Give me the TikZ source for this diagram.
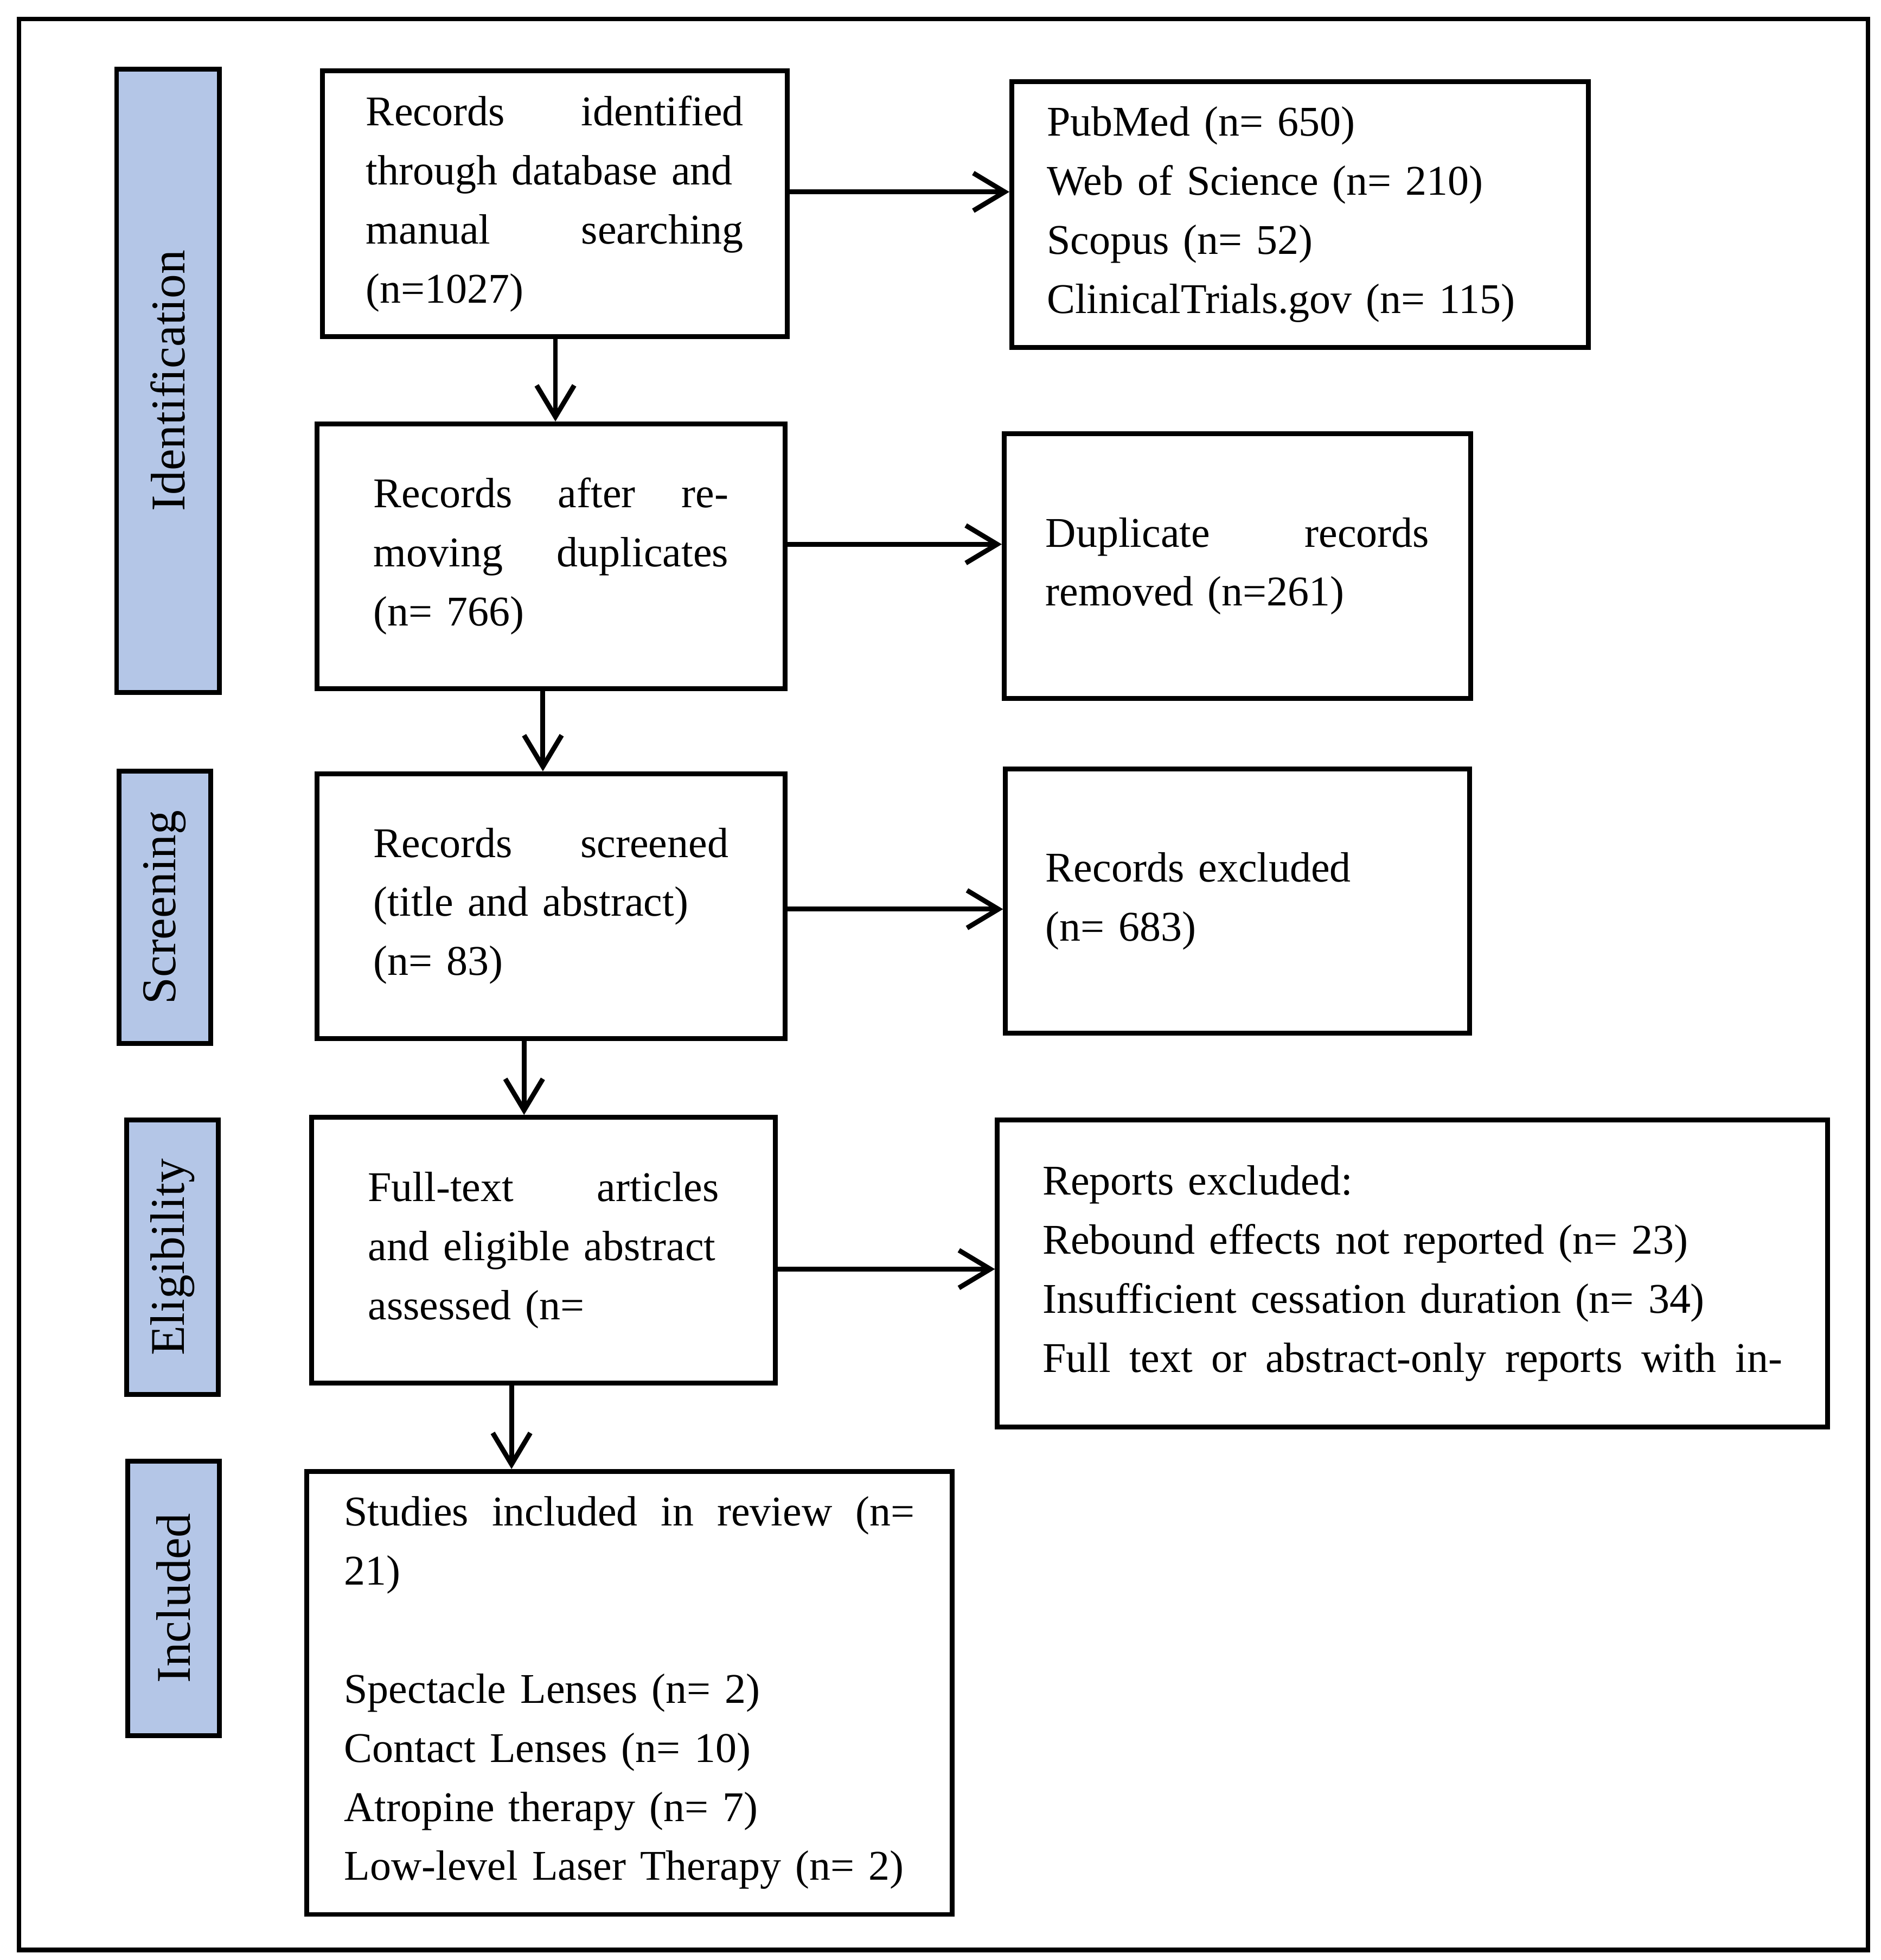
\documentclass[tikz,border=0pt]{standalone}
\usepackage{fontspec}
\setmainfont{Liberation Serif}
\usetikzlibrary{arrows.meta}
\definecolor{phase}{RGB}{180,198,231}
\begin{document}
\begin{tikzpicture}[
  box/.style={draw, line width=1.1pt, inner xsep=0.35cm, inner ysep=0.2cm,
    font=\fontsize{9.6}{13.4}\selectfont, align=left},
  side/.style={draw, line width=1.1pt, fill=phase, rotate=90,
    font=\fontsize{11}{13}\selectfont},
  arr/.style={-{Straight Barb[length=2.5mm,width=3mm]}, line width=1.1pt}]
  % 画布与外框
  \useasboundingbox (0,0) rectangle (15,-15.63);
  \draw[line width=1pt] (0.15,-0.15) rectangle (14.9,-15.55);
  % 阶段标签
  \node[side, minimum width=4.97cm, minimum height=0.82cm] (ident) at (1.34,-3.035) {Identification};
  \node[side, minimum width=2.17cm, minimum height=0.73cm] (scr) at (1.315,-7.235) {Screening};
  \node[side, minimum width=2.19cm, minimum height=0.73cm] (elig) at (1.375,-10.025) {Eligibility};
  \node[side, minimum width=2.19cm, minimum height=0.73cm] (incl) at (1.385,-12.745) {Included};
  % 左列框
  \node[box, text width=3.01cm, minimum height=2.11cm] (rec) at (4.425,-1.625)
    {Records\hfill identified\\through database and\\manual\hfill searching\\(n=1027)};
  \node[box, text width=2.83cm, minimum height=2.11cm, inner xsep=0.45cm] (dedup) at (4.395,-4.435)
    {Records\hfill after\hfill re-\\moving\hfill duplicates\\(n=~766)};
  \node[box, text width=2.83cm, minimum height=2.11cm, inner xsep=0.45cm] (screen) at (4.395,-7.225)
    {Records\hfill screened\\(title and abstract)\\(n=~83)};
  \node[box, text width=2.8cm, minimum height=2.12cm, inner xsep=0.45cm] (full) at (4.335,-9.97)
    {Full-text\hfill articles\\and eligible abstract\\assessed (n=};
  \node[box, text width=4.55cm, minimum height=3.5cm, inner xsep=0.3cm] (incl2) at (5.02,-13.5)
    {Studies\hfill included\hfill in\hfill review\hfill (n=\\21)\\[\baselineskip]Spectacle Lenses (n=~2)\\Contact Lenses (n=~10)\\Atropine therapy (n=~7)\\Low-level Laser Therapy (n=~2)};
  % 右列框
  \node[box, text width=4.04cm, minimum height=2.12cm, inner xsep=0.28cm] (src) at (10.37,-1.71)
    {PubMed (n=~650)\\Web of Science (n=~210)\\Scopus (n=~52)\\ClinicalTrials.gov (n=~115)};
  \node[box, text width=3.06cm, minimum height=2.11cm, inner xsep=0.33cm] (dup) at (9.87,-4.515)
    {Duplicate\hfill records\\removed (n=261)\\[\baselineskip]};
  \node[box, text width=3.06cm, minimum height=2.11cm, inner xsep=0.32cm] (exc) at (9.87,-7.185)
    {Records excluded\\(n=~683)\\[\baselineskip]};
  \node[box, text width=5.9cm, minimum height=2.45cm, inner xsep=0.36cm] (rep) at (11.265,-10.155)
    {Reports excluded:\\Rebound effects not reported (n=~23)\\Insufficient cessation duration (n=~34)\\Full\hfill text\hfill or\hfill abstract-only\hfill reports\hfill with\hfill in-};
  % 箭头
  \draw[arr] (rec.east |- 0,-1.53) -- (src.west |- 0,-1.53);
  \draw[arr] (dedup.east |- 0,-4.34) -- (dup.west |- 0,-4.34);
  \draw[arr] (screen.east |- 0,-7.25) -- (exc.west |- 0,-7.25);
  \draw[arr] (full.east |- 0,-10.12) -- (rep.west |- 0,-10.12);
  \draw[arr] (rec.south -| 4.43,0) -- (dedup.north -| 4.43,0);
  \draw[arr] (dedup.south -| 4.33,0) -- (screen.north -| 4.33,0);
  \draw[arr] (screen.south -| 4.18,0) -- (full.north -| 4.18,0);
  \draw[arr] (full.south -| 4.08,0) -- (incl2.north -| 4.08,0);
\end{tikzpicture}
\end{document}
